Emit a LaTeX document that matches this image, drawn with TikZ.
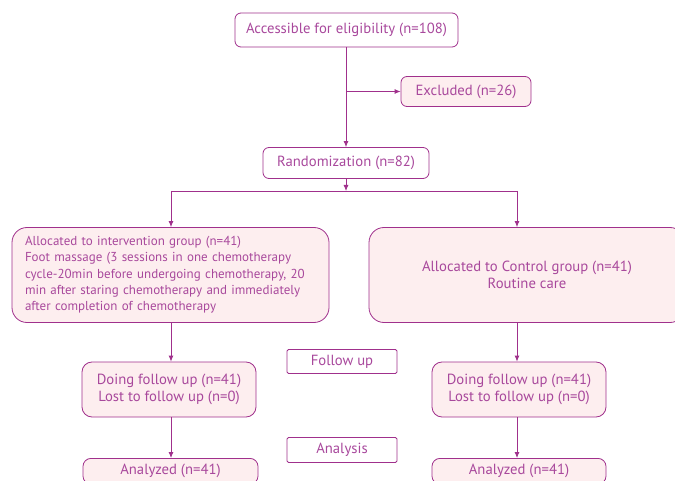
\documentclass[tikz,border=0pt]{standalone}
\usepackage{fontspec}
\setmainfont{PT Sans}
\usetikzlibrary{calc,arrows.meta}
\usepackage{xcolor}
\definecolor{pMagenta}{HTML}{A0308C}
\definecolor{pText}{HTML}{A8489C}
\definecolor{pPink}{HTML}{FDEEEF}

\begin{document}
\begin{tikzpicture}[x=1pt,y=-1pt]
    \pgfmathsetmacro{\xl}{171}	%left column
	\pgfmathsetmacro{\xm}{346}
	\pgfmathsetmacro{\xr}{517}

    \tikzset{
        box/.style={draw=pMagenta, line width=0.8pt, rounded corners=6pt, text=pText, font=\fontsize{14.7}{17}\selectfont, align=center, inner sep=0pt},
        pinkbox/.style={box, fill=pPink},
        tagbox/.style={box, rounded corners=1.5pt, minimum width=110pt},
        arr/.style={draw=pMagenta, line width=0.8pt, -{Latex[length=6pt,width=5pt]}},
        link/.style={draw=pMagenta, line width=0.8pt}
    }

    \useasboundingbox (0,0) rectangle (675,481);
    \clip (0,0) rectangle (675,481);

    \node[box, minimum width=223pt, minimum height=34pt] (acc) at (\xm+0.5,30) {Accessible for eligibility (n=108)};
    \node[pinkbox, minimum width=130pt, minimum height=30pt] (exc) at (466,91.5) {Excluded (n=26)};
    \node[box, minimum width=166pt, minimum height=31pt] (rand) at (\xm,163) {Randomization (n=82)};

    \node[pinkbox, rounded corners=15pt, minimum width=317pt, minimum height=95pt, text width=291pt, align=left, font=\fontsize{13}{16.3}\selectfont] (int) at (170.5,275) {Allocated to intervention group (n=41)\\Foot massage (3 sessions in one chemotherapy\\cycle-20min before undergoing chemotherapy, 20\\min after staring chemotherapy and immediately\\after completion of chemotherapy};
    \node[pinkbox, rounded corners=15pt, minimum width=316pt, minimum height=95pt] (ctl) at (527,275) {Allocated to Control group (n=41)\\Routine care};

    \node[pinkbox, rounded corners=10pt, minimum width=174pt, minimum height=55pt] (folL) at (169,389.5) {Doing follow up (n=41)\\Lost to follow up (n=0)};
    \node[pinkbox, rounded corners=10pt, minimum width=174pt, minimum height=55pt] (folR) at (519,389.5) {Doing follow up (n=41)\\Lost to follow up (n=0)};

    \node[tagbox, minimum height=24pt] (tagFol) at (342,361.5) {Follow up};
    \node[tagbox, minimum height=25pt] (tagAna) at (342,450) {Analysis};

    \node[pinkbox, rounded corners=8pt, minimum width=175pt, anchor=north, inner ysep=6pt] (anaL) at (170.5,458) {Analyzed (n=41)};
    \node[pinkbox, rounded corners=8pt, minimum width=174pt, anchor=north, inner ysep=6pt] (anaR) at (519,458) {Analyzed (n=41)};

    \coordinate (br) at (\xm,91.5);
    \coordinate (split) at (\xm,191);
    \coordinate (splitL) at (\xl,191);
    \coordinate (splitR) at (\xr,191);

    \draw[arr] (acc.south -| split) -- (rand.north -| split);
    \draw[arr] (br) -- (exc.west);
    \draw[arr] (rand.south -| split) -- (split);
    \draw[link] (splitL) -- (splitR);
    \draw[arr] (splitL) -- (int.north -| splitL);
    \draw[arr] (splitR) -- (ctl.north -| splitR);
    \draw[arr] (int.south -| splitL) -- (folL.north -| splitL);
    \draw[arr] (ctl.south -| splitR) -- (folR.north -| splitR);
    \draw[arr] (folL.south -| splitL) -- (anaL.north -| splitL);
    \draw[arr] (folR.south -| splitR) -- (anaR.north -| splitR);
\end{tikzpicture}
\end{document}
